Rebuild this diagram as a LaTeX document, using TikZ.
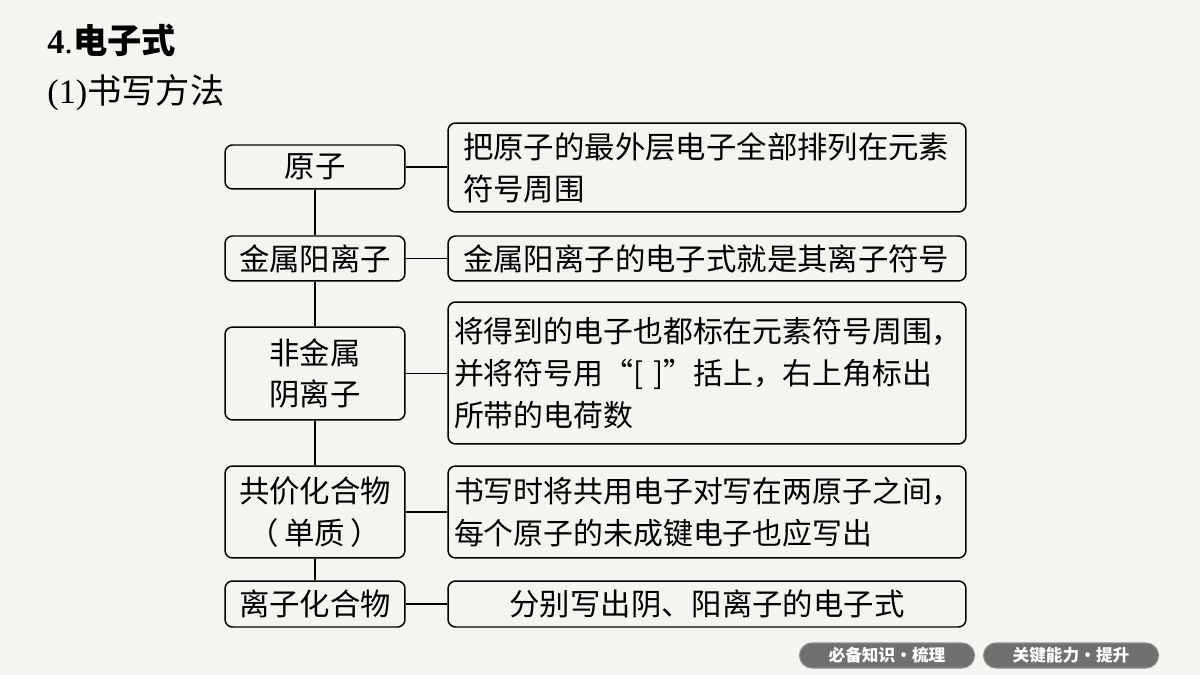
\documentclass[tikz,border=0pt]{standalone}
\usepackage{fontspec}
\setmainfont{Liberation Serif}
\newfontfamily\cjk{Noto Sans CJK SC}
\definecolor{bgc}{RGB}{243,245,240}
\definecolor{btnc}{RGB}{112,112,112}
\tikzset{
  lbox/.style={draw, rounded corners=0.15cm, line width=0.85pt, minimum width=3.6cm, inner sep=0pt, align=center, font=\cjk\fontsize{17.3}{23.8}\selectfont},
  rbox/.style={draw, rounded corners=0.15cm, line width=0.85pt, text width=9.76cm, inner xsep=0.3cm, inner ysep=0pt, align=left, font=\cjk\fontsize{17.3}{23.8}\selectfont},
  link/.style={line width=0.85pt},
  btn/.style={fill=btnc, draw=btnc!80!white, line width=0.6pt, rounded corners=0.25cm, minimum width=3.5cm, minimum height=0.5cm, inner sep=0pt, text=white, font=\cjk\bfseries\fontsize{9.5}{10}\selectfont}
}
\begin{document}
\begin{tikzpicture}[x=0.02cm,y=-0.02cm]
\fill[bgc] (0,0) rectangle (1200,675);
\useasboundingbox (0,0) rectangle (1200,675);
% titles
\node[anchor=west, inner sep=0pt, font=\fontsize{19.5}{22}\selectfont] (title) at (47,40) {\textbf{4}.{\cjk\bfseries 电子式}};
\node[anchor=west, inner sep=0pt, font=\fontsize{19.5}{22}\selectfont] (sub) at (47,93) {(1){\cjk 书写方法}};
% left boxes
\node[lbox, minimum height=0.88cm] (a1) at (315,167) {原子};
\node[lbox, minimum height=0.9cm] (a2) at (315,258.5) {金属阳离子};
\node[lbox, minimum height=1.86cm] (a3) at (315,373.5) {非金属\\阴离子};
\node[lbox, minimum height=1.84cm] (a4) at (315,512) {共价化合物\\（\kern3pt单质\kern3pt）};
\node[lbox, minimum height=0.92cm] (a5) at (315,604) {离子化合物};
% right boxes
\node[rbox, minimum height=1.78cm] (b1) at (707,167.5) {把原子的最外层电子全部排列在元素\\符号周围};
\node[rbox, minimum height=0.9cm] (b2) at (707,258.5) {金属阳离子的电子式就是其离子符号};
\node[rbox, minimum height=2.84cm, inner xsep=0.12cm, text width=10.12cm, font=\cjk\fontsize{17}{23.8}\selectfont] (b3) at (707,373) {将得到的电子也都标在元素符号周围，\\并将符号用“[\,\,]”括上，右上角标出\\所带的电荷数};
\node[rbox, minimum height=1.84cm, inner xsep=0.12cm, text width=10.12cm, font=\cjk\fontsize{17}{23.8}\selectfont] (b4) at (707,512) {书写时将共用电子对写在两原子之间，\\每个原子的未成键电子也应写出};
\node[rbox, minimum height=0.92cm, align=center] (b5) at (707,604) {分别写出阴、阳离子的电子式};
% connectors
\draw[link] (a1.south) -- (a2.north);
\draw[link] (a2.south) -- (a3.north);
\draw[link] (a3.south) -- (a4.north);
\draw[link] (a4.south) -- (a5.north);
\draw[link] (a1.east) -- (b1.west |- a1.east);
\draw[link] (a2.east) -- (b2.west |- a2.east);
\draw[link] (a3.east) -- (b3.west |- a3.east);
\draw[link] (a4.east) -- (b4.west |- a4.east);
\draw[link] (a5.east) -- (b5.west |- a5.east);
% buttons
\node[btn] (n1) at (887,655.5) {必备知识•梳理};
\node[btn] (n2) at (1071,655.5) {关键能力•提升};
\end{tikzpicture}
\end{document}
